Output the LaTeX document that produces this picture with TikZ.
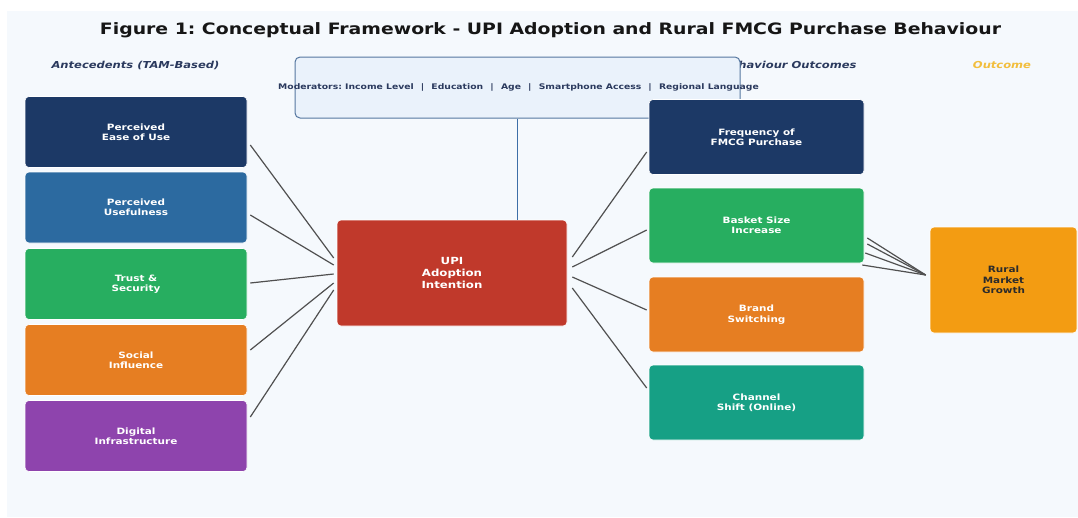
\documentclass[tikz,border=0pt]{standalone}
\usepackage{fontspec}
\setmainfont{DejaVu Sans}[FakeStretch=1.2]
\usetikzlibrary{calc}

\definecolor{pagebg}{HTML}{F5F9FD}
\definecolor{titleink}{HTML}{161616}
\definecolor{headink}{HTML}{2B3A5E}
\definecolor{outcomeink}{HTML}{F2BE3C}
\definecolor{navybox}{HTML}{1C3966}
\definecolor{steelbox}{HTML}{2C6AA0}
\definecolor{greenbox}{HTML}{27AE60}
\definecolor{orangebox}{HTML}{E67E22}
\definecolor{purplebox}{HTML}{8E44AD}
\definecolor{redbox}{HTML}{C0392B}
\definecolor{tealbox}{HTML}{16A085}
\definecolor{goldbox}{HTML}{F39C12}
\definecolor{modfill}{HTML}{EAF2FB}
\definecolor{modedge}{HTML}{5577A0}
\definecolor{modline}{HTML}{3D6FA8}
\definecolor{linkgray}{HTML}{505050}
\definecolor{darkink}{HTML}{2B2B2B}

\newcommand\msep{\hspace{7.2pt}|\hspace{7.2pt}}

\begin{document}
\frenchspacing
\begin{tikzpicture}[x=1pt,y=-1pt,
  card/.style={rounded corners=4pt, draw=white, line width=0.6pt, text=white,
    font=\bfseries\fontsize{8.7}{10.4}\selectfont, align=center, inner sep=0pt},
  lbox/.style={card, minimum width=222pt, minimum height=71pt},
  obox/.style={card, minimum width=215pt, minimum height=75pt},
  heading/.style={font=\bfseries\itshape\fontsize{9.6}{11.5}\selectfont, text=headink, inner sep=0pt},
  link/.style={draw=linkgray, line width=1.2pt},
]
\useasboundingbox (0,0) rectangle (1078,517);
\fill[white] (0,0) rectangle (1078,517);
\fill[pagebg] (7,11) rectangle (1078,517);

% title and column headings
\node[font=\bfseries\fontsize{15.7}{18}\selectfont, text=titleink, anchor=base, inner sep=0pt]
  (title) at (550.5,34.5) {Figure 1: Conceptual Framework - UPI Adoption and Rural FMCG Purchase Behaviour};
\node[heading] (antehead) at (135.5,65) {Antecedents (TAM-Based)};
\node[heading] (outhead) at (757.5,65) {Purchase Behaviour Outcomes};
\node[heading, text=outcomeink] (finalhead) at (1002,65) {Outcome};

% moderators panel
\node[rounded corners=5pt, fill=modfill, draw=modedge, line width=1pt,
  minimum width=445pt, minimum height=61pt, inner sep=0pt] (mod) at (517.5,87.5) {};
\node[font=\bfseries\fontsize{7.7}{9}\selectfont, text=headink, inner sep=0pt] (modtext) at (518.5,87.5)
  {Moderators: Income Level\msep Education\msep Age\msep Smartphone Access\msep Regional Language};

% antecedents
\node[lbox, fill=navybox]   (peou) at (136,132)   {Perceived\\Ease of Use};
\node[lbox, fill=steelbox]  (pu)   at (136,207.5) {Perceived\\Usefulness};
\node[lbox, fill=greenbox]  (ts)   at (136,284)   {Trust \&\\Security};
\node[lbox, fill=orangebox] (si)   at (136,360)   {Social\\Influence};
\node[lbox, fill=purplebox] (di)   at (136,436)   {Digital\\Infrastructure};

% central construct
\node[card, fill=redbox, minimum width=230pt, minimum height=106pt,
  font=\bfseries\fontsize{9.8}{12}\selectfont] (upi) at (452,273) {UPI\\Adoption\\Intention};

% behaviour outcomes
\node[obox, fill=navybox]   (freq)    at (756.5,137)   {Frequency of\\FMCG Purchase};
\node[obox, fill=greenbox]  (basket)  at (756.5,225.5) {Basket Size\\Increase};
\node[obox, fill=orangebox] (brand)   at (756.5,314.5) {Brand\\Switching};
\node[obox, fill=tealbox]   (channel) at (756.5,402.5) {Channel\\Shift (Online)};

% final outcome
\node[card, fill=goldbox, text=darkink, minimum width=147pt, minimum height=106pt] (rural)
  at (1003.5,280) {Rural\\Market\\Growth};

% moderator link
\draw[modline, line width=1.5pt] (mod.south) -- (mod.south |- upi.north);

% antecedents to intention
\foreach \src/\dy/\ey in {peou/13/-15, pu/7.5/-8, ts/-1/1, si/-10/10, di/-19/17}
  \draw[link] ($(\src.east)+(3,\dy)$) -- ($(upi.west)+(-3,\ey)$);

% intention to outcomes
\foreach \dst/\sy/\ey in {freq/-16/15, basket/-6/4.5, brand/4/-4.5, channel/15/-14.5}
  \draw[link] ($(upi.east)+(5,\sy)$) -- ($(\dst.west)+(-2,\ey)$);

% outcomes to market growth
\foreach \sx/\sy in {3/12.5, 3/18.5, 1/27.5, -2/39.5}
  \draw[link] ($(basket.east)+(\sx,\sy)$) -- ($(rural.west)+(-4,-5)$);
\end{tikzpicture}
\end{document}
